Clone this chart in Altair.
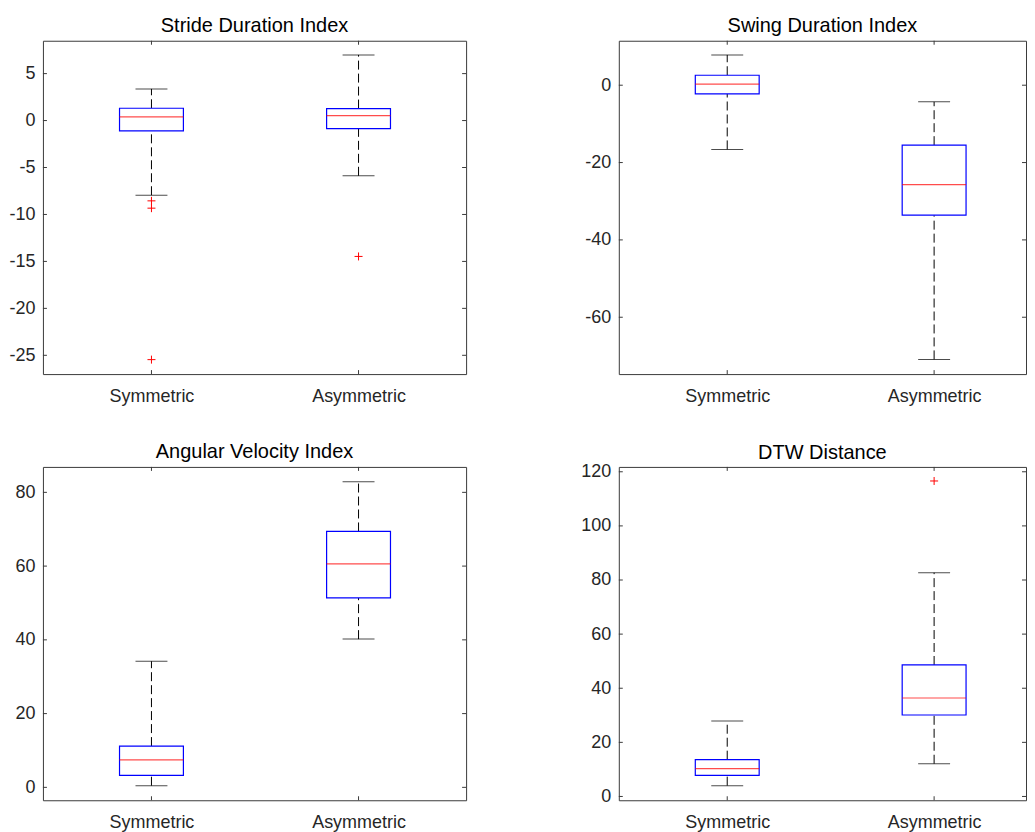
import altair as alt
import pandas as pd

# ---- data ------------------------------------------------------------------
groups = ["Symmetric", "Asymmetric"]
positions = [1, 2]

titles = ["Stride Duration Index", "Swing Duration Index",
          "Angular Velocity Index", "DTW Distance"]

# Stride Duration Index
stride_low = [-7.95, -5.88]
stride_q1 = [-1.10, -0.85]
stride_med = [0.39, 0.53]
stride_q3 = [1.31, 1.28]
stride_high = [3.37, 6.99]
stride_out_pos = [1, 1, 1, 2]
stride_out_val = [-8.55, -9.33, -25.46, -14.47]
stride_ticks = [-25, -20, -15, -10, -5, 0, 5]
stride_domain = [-27.0, 8.5]

# Swing Duration Index
swing_low = [-16.6, -70.9]
swing_q1 = [-2.22, -33.6]
swing_med = [0.26, -25.7]
swing_q3 = [2.58, -15.5]
swing_high = [7.83, -4.3]
swing_out_pos = []
swing_out_val = []
swing_ticks = [-60, -40, -20, 0]
swing_domain = [-74.7, 11.5]

# Angular Velocity Index
ang_low = [0.45, 40.2]
ang_q1 = [3.23, 51.4]
ang_med = [7.47, 60.6]
ang_q3 = [11.2, 69.4]
ang_high = [34.2, 82.9]
ang_out_pos = []
ang_out_val = []
ang_ticks = [0, 20, 40, 60, 80]
ang_domain = [-3.5, 86.9]

# DTW Distance
dtw_low = [4.0, 12.1]
dtw_q1 = [7.8, 30.1]
dtw_med = [10.3, 36.4]
dtw_q3 = [13.6, 48.6]
dtw_high = [27.9, 82.7]
dtw_out_pos = [2]
dtw_out_val = [116.6]
dtw_ticks = [0, 20, 40, 60, 80, 100, 120]
dtw_domain = [-1.4, 121.8]

# ---- styling -----------------------------------------------------------------
FONT = "Liberation Sans"
AXIS_COLOR = "#3a3a3a"
LABEL_EXPR = "[" + ",".join("'%s'" % g for g in groups) + "][datum.value - 1]"
H = 334
PLUS = "M-1,0H1M0,-1V1"


def panel(title, low, q1, med, q3, high, out_pos, out_val, ticks, ydom, width,
          title_offset=4):
    xmax = 0.5 + width / 212.5
    df = pd.DataFrame({"pos": positions, "group": groups, "low": low, "q1": q1,
                       "med": med, "q3": q3, "high": high})
    xs = alt.Scale(domain=[0.5, xmax], nice=False, zero=False)
    ys = alt.Scale(domain=ydom, nice=False, zero=False)
    x_axis = alt.Axis(values=positions, labelExpr=LABEL_EXPR, title=None, grid=False,
                      ticks=False, domain=False, labelFontSize=18, labelPadding=13,
                      labelColor="#262626", labelFont=FONT)
    y_axis = alt.Axis(values=ticks, labelExpr="'' + datum.value", title=None, grid=False,
                      ticks=False, domain=False, labelFontSize=18, labelPadding=8,
                      labelColor="#262626", labelFont=FONT)
    base = alt.Chart(df)
    X = alt.X("pos:Q", scale=xs, axis=x_axis)

    def Y(field):
        return alt.Y(field, scale=ys, axis=y_axis)

    whisk_up = base.mark_rule(color="black", strokeWidth=1, strokeDash=[9, 4]).encode(
        x=X, y=Y("q3:Q"), y2="high:Q")
    whisk_dn = base.mark_rule(color="black", strokeWidth=1, strokeDash=[9, 4]).encode(
        x=X, y=Y("low:Q"), y2="q1:Q")
    cap_hi = base.mark_tick(orient="horizontal", size=32, thickness=1, color="black").encode(
        x=X, y=Y("high:Q"))
    cap_lo = base.mark_tick(orient="horizontal", size=32, thickness=1, color="black").encode(
        x=X, y=Y("low:Q"))
    box = base.mark_bar(size=64, fill="white", stroke="#0000ff", strokeWidth=1.2).encode(
        x=X, y=Y("q1:Q"), y2="q3:Q")
    median = base.mark_tick(orient="horizontal", size=64, thickness=1.2, color="#ff0000").encode(
        x=X, y=Y("med:Q"))

    tick_df = pd.DataFrame({"v": ticks})
    tl = alt.Chart(tick_df).mark_rule(color=AXIS_COLOR, strokeWidth=1).encode(
        y=Y("v:Q"), x=alt.value(0), x2=alt.value(4))
    tr = alt.Chart(tick_df).mark_rule(color=AXIS_COLOR, strokeWidth=1).encode(
        y=Y("v:Q"), x=alt.value(width - 4), x2=alt.value(width))
    tt = base.mark_rule(color=AXIS_COLOR, strokeWidth=1).encode(
        x=X, y=alt.value(0), y2=alt.value(4))
    tb = base.mark_rule(color=AXIS_COLOR, strokeWidth=1).encode(
        x=X, y=alt.value(H - 4), y2=alt.value(H))

    layers = [whisk_up, whisk_dn, cap_hi, cap_lo, box, median, tl, tr, tt, tb]
    if out_val:
        odf = pd.DataFrame({"pos": out_pos, "val": out_val})
        outl = alt.Chart(odf).mark_point(shape=PLUS, size=64, filled=False, stroke="#ff0000",
                                         strokeWidth=1, opacity=1).encode(
            x=X, y=Y("val:Q"))
        layers.append(outl)

    return alt.layer(*layers).properties(
        width=width, height=H,
        view=alt.ViewBackground(stroke=AXIS_COLOR, strokeWidth=1, fill="white"),
        title=alt.TitleParams(title, fontSize=20, fontWeight="normal", font=FONT,
                              color="#000000", offset=title_offset, anchor="middle",
                              frame="group"))


p1 = panel(titles[0], stride_low, stride_q1, stride_med, stride_q3, stride_high,
           stride_out_pos, stride_out_val, stride_ticks, stride_domain, 424)
p2 = panel(titles[1], swing_low, swing_q1, swing_med, swing_q3, swing_high,
           swing_out_pos, swing_out_val, swing_ticks, swing_domain, 408)
p3 = panel(titles[2], ang_low, ang_q1, ang_med, ang_q3, ang_high,
           ang_out_pos, ang_out_val, ang_ticks, ang_domain, 424)
p4 = panel(titles[3], dtw_low, dtw_q1, dtw_med, dtw_q3, dtw_high,
           dtw_out_pos, dtw_out_val, dtw_ticks, dtw_domain, 408, title_offset=0)

chart = alt.concat(p1, p2, p3, p4, columns=2,
                   spacing=alt.RowColnumber(row=93, column=153),
                   bounds="flush", align="each").properties(
    padding={"left": 0, "top": 7, "right": 0, "bottom": 0}
).configure_view(stroke=AXIS_COLOR, strokeWidth=1).configure(font=FONT, background="white")

chart.save("out.html", embed_options={"renderer": "svg", "actions": False})
